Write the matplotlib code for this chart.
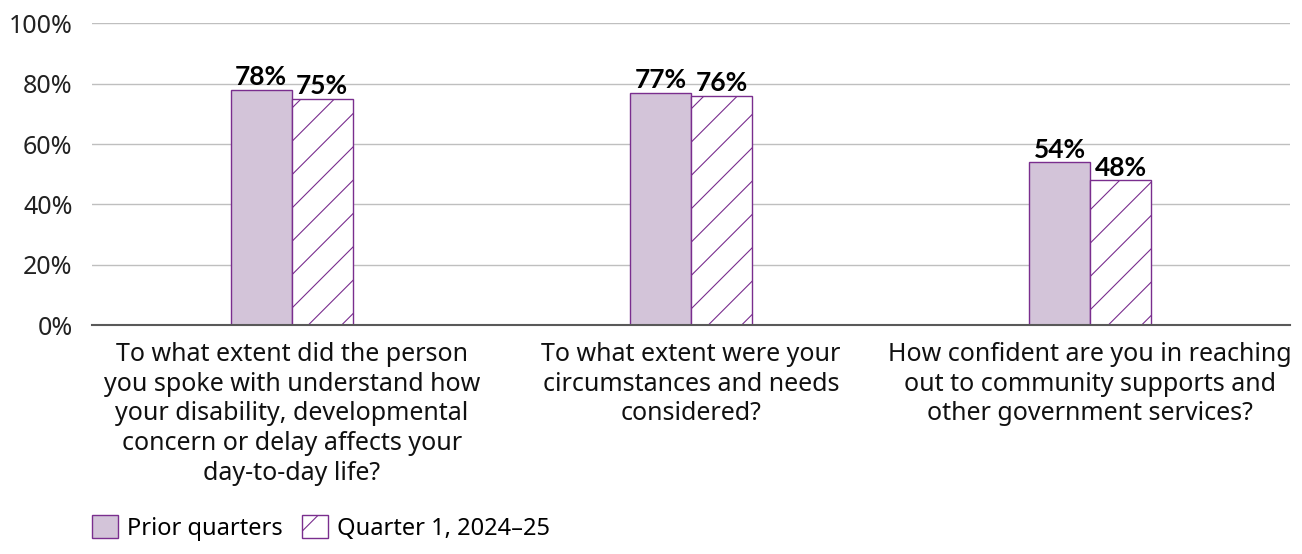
import numpy as np
import matplotlib.pyplot as plt
from matplotlib.patches import Patch

plt.rcParams['font.family'] = ['Noto Sans', 'DejaVu Sans']

questions = [
    "To what extent did the person\nyou spoke with understand how\nyour disability, developmental\nconcern or delay affects your\nday-to-day life?",
    "To what extent were your\ncircumstances and needs\nconsidered?",
    "How confident are you in reaching\nout to community supports and\nother government services?",
]
prior = [78, 77, 54]
q1 = [75, 76, 48]
series_names = ["Prior quarters", "Quarter 1, 2024\u201325"]

fill = "#D3C4D9"
edge = "#7A2E8E"
plt.rcParams['hatch.color'] = edge
plt.rcParams['hatch.linewidth'] = 0.8

fig = plt.figure(figsize=(13.02, 5.54), dpi=100)
ax = fig.add_axes([0.0707, 0.413, 0.92, 0.545])

x = np.arange(len(questions))
w = 0.153
b1 = ax.bar(x - w / 2, prior, w, color=fill, edgecolor=edge, linewidth=1)
b2 = ax.bar(x + w / 2, q1, w, color="white", edgecolor=edge, linewidth=1, hatch="/")

# value labels in bold above each bar
for bars, vals in [(b1, prior), (b2, q1)]:
    for r, v in zip(bars, vals):
        ax.text(r.get_x() + r.get_width() / 2, v + 0.2, f"{v}%", ha="center", va="bottom",
                fontsize=19, fontweight="bold", family=["Lato", "DejaVu Sans"], color="black")

ax.set_ylim(0, 100)
ax.set_xlim(-0.5, 2.5)
ax.set_yticks(range(0, 101, 20))
ax.set_yticklabels([f"{t}%" for t in range(0, 101, 20)], fontsize=18, color="#222222")
ax.set_xticks(x)
ax.set_xticklabels(questions, fontsize=18, linespacing=1.25, color="#111111")
ax.tick_params(axis="x", length=0, pad=12)
ax.tick_params(axis="y", length=0, pad=14)
ax.grid(axis="y", color="#BFBFBF", linewidth=1)
ax.set_axisbelow(True)
for s in ["top", "right", "left"]:
    ax.spines[s].set_visible(False)
ax.spines["bottom"].set_color("#595959")
ax.spines["bottom"].set_linewidth(1.5)

handles = [Patch(facecolor=fill, edgecolor=edge, label=series_names[0]),
           Patch(facecolor="white", edgecolor=edge, hatch="/", label=series_names[1])]
fig.legend(handles=handles, loc="lower left", bbox_to_anchor=(0.054, -0.014), ncol=2,
           frameon=False, fontsize=17, handlelength=1.1, handleheight=1.1,
           handletextpad=0.4, columnspacing=0.8)

fig.savefig("out.png", dpi=100)
